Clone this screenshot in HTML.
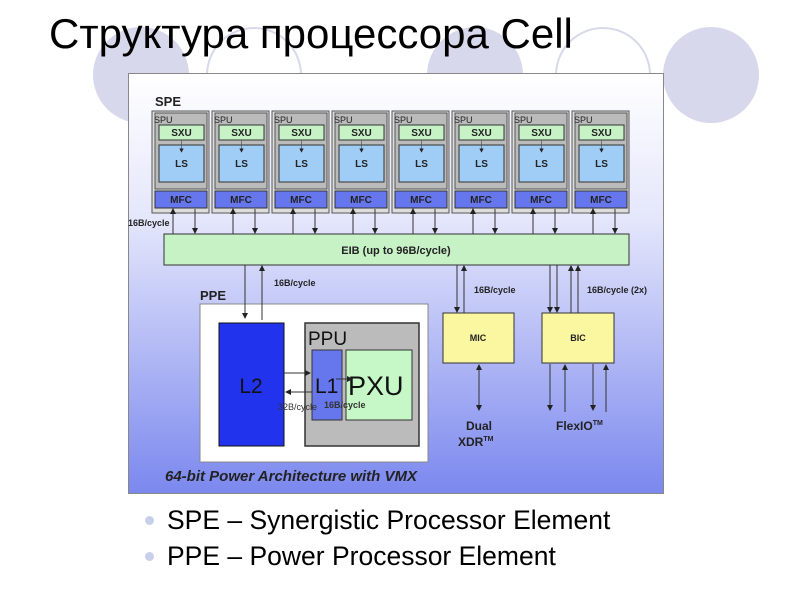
<!DOCTYPE html>
<html><head><meta charset="utf-8"><style>
body{margin:0;width:800px;height:600px;background:#fff;position:relative;overflow:hidden;font-family:"Liberation Sans",Arial,sans-serif}
.c{position:absolute;width:96px;height:96px;border-radius:50%;top:27px}
.f{background:#d8d8ec}.o{border:2px solid #d8d8ec;width:92px;height:92px}
h1{position:absolute;left:49px;top:10px;margin:0;font-weight:normal;font-size:42px;color:#000;letter-spacing:0px}
.b{position:absolute;left:146px;font-size:26.5px;color:#000}
.b:before{content:"";position:absolute;left:-1px;top:11px;width:9px;height:9px;border-radius:50%;background:#c8cfea}
.b span{margin-left:21px}
</style></head><body>
<div class="c f" style="left:93px"></div>
<div class="c o" style="left:206px"></div>
<div class="c f" style="left:427px"></div>
<div class="c o" style="left:555px"></div>
<div class="c f" style="left:663px"></div>
<h1>Структура процессора Cell</h1>
<svg style="position:absolute;left:0;top:0" width="800" height="600" font-family="Liberation Sans,Arial,sans-serif">
<defs>
<linearGradient id="g" x1="0" y1="0" x2="0" y2="1"><stop offset="0" stop-color="#ffffff"/><stop offset="0.35" stop-color="#e4e6fb"/><stop offset="1" stop-color="#7b88ee"/></linearGradient>
<marker id="a" markerWidth="6" markerHeight="6" refX="5" refY="3" orient="auto"><path d="M0,0L6,3L0,6z" fill="#222"/></marker>
</defs>
<rect x="128.5" y="73.5" width="535" height="420" fill="url(#g)" stroke="#888"/>
<text x="155" y="106" font-size="13" font-weight="bold" fill="#222">SPE</text>
<g id="spe">
<rect x="152" y="111" width="57" height="102" fill="#ddd" stroke="#555"/>
<rect x="155" y="113" width="52" height="76" fill="#bbb" stroke="#555"/>
<text x="154" y="123" font-size="9" fill="#222">SPU</text>
<rect x="159" y="125" width="45" height="15" fill="#c6f2c6" stroke="#333"/>
<text x="181.5" y="136" font-size="10" font-weight="bold" text-anchor="middle" fill="#222">SXU</text>
<rect x="159" y="145" width="45" height="37" fill="#9fcdf5" stroke="#333"/>
<text x="181.5" y="167" font-size="10" font-weight="bold" text-anchor="middle" fill="#222">LS</text>
<line x1="181.5" y1="140" x2="181.5" y2="152" stroke="#555" stroke-width="0.7" marker-end="url(#a)"/>
<rect x="155" y="191" width="52" height="17" fill="#6677ee" stroke="#333"/>
<text x="181" y="203" font-size="10" font-weight="bold" text-anchor="middle" fill="#222">MFC</text>
<line x1="173" y1="234" x2="173" y2="209" stroke="#333" marker-end="url(#a)"/>
<line x1="195" y1="209" x2="195" y2="233" stroke="#333" marker-end="url(#a)"/>
</g>
<use href="#spe" x="60"/><use href="#spe" x="120"/><use href="#spe" x="180"/><use href="#spe" x="240"/><use href="#spe" x="300"/><use href="#spe" x="360"/><use href="#spe" x="420"/>
<text x="128" y="226" font-size="9" font-weight="bold" fill="#222">16B/cycle</text>
<rect x="164" y="234" width="465" height="31" fill="#c6f2c6" stroke="#333"/>
<text x="396" y="254" font-size="11" font-weight="bold" text-anchor="middle" fill="#222">EIB (up to 96B/cycle)</text>
<text x="200" y="300" font-size="13" font-weight="bold" fill="#222">PPE</text>
<text x="274" y="286" font-size="9" font-weight="bold" fill="#222">16B/cycle</text>
<rect x="200" y="304" width="228" height="158" fill="#fff" stroke="#888"/>
<line x1="245" y1="265" x2="245" y2="318" stroke="#333" marker-end="url(#a)"/>
<line x1="262" y1="320" x2="262" y2="266" stroke="#333" marker-end="url(#a)"/>
<rect x="219" y="323" width="65" height="123" fill="#2233ee" stroke="#111"/>
<text x="251" y="393" font-size="21" text-anchor="middle" fill="#111">L2</text>
<rect x="305" y="323" width="114" height="123" fill="#bbb" stroke="#333" stroke-width="1.5"/>
<text x="308" y="345" font-size="19" fill="#111">PPU</text>
<rect x="312" y="350" width="30" height="70" fill="#6677ee" stroke="#333"/>
<rect x="346" y="350" width="66" height="70" fill="#c6f7c6" stroke="#333"/>
<text x="315" y="393" font-size="21" fill="#111">L1</text>
<text x="348" y="395" font-size="27" fill="#111">PXU</text>
<line x1="284" y1="373" x2="310" y2="373" stroke="#333" marker-end="url(#a)"/>
<line x1="312" y1="392" x2="286" y2="392" stroke="#333" marker-end="url(#a)"/>
<line x1="336" y1="379" x2="352" y2="379" stroke="#333" marker-end="url(#a)"/>
<text x="278" y="410" font-size="9" fill="#333">32B/cycle</text>
<text x="324" y="408" font-size="9" font-weight="bold" fill="#333">16B/cycle</text>
<text x="165" y="481" font-size="15" font-weight="bold" font-style="italic" fill="#222">64-bit Power Architecture with VMX</text>
<text x="474" y="293" font-size="9" font-weight="bold" fill="#222">16B/cycle</text>
<text x="587" y="293" font-size="9" font-weight="bold" fill="#222">16B/cycle (2x)</text>
<line x1="457" y1="265" x2="457" y2="312" stroke="#333" marker-end="url(#a)"/>
<line x1="464" y1="313" x2="464" y2="266" stroke="#333" marker-end="url(#a)"/>
<line x1="550" y1="265" x2="550" y2="312" stroke="#333" marker-end="url(#a)"/>
<line x1="557" y1="265" x2="557" y2="312" stroke="#333" marker-end="url(#a)"/>
<line x1="571" y1="313" x2="571" y2="266" stroke="#333" marker-end="url(#a)"/>
<line x1="578" y1="313" x2="578" y2="266" stroke="#333" marker-end="url(#a)"/>
<rect x="443" y="313" width="71" height="50" fill="#fbf6a0" stroke="#333"/>
<text x="478" y="341" font-size="9" font-weight="bold" text-anchor="middle" fill="#222">MIC</text>
<rect x="542" y="313" width="72" height="50" fill="#fbf6a0" stroke="#333"/>
<text x="578" y="341" font-size="9" font-weight="bold" text-anchor="middle" fill="#222">BIC</text>
<line x1="479" y1="380" x2="479" y2="410" stroke="#333" marker-end="url(#a)"/>
<line x1="479" y1="395" x2="479" y2="365" stroke="#333" marker-end="url(#a)"/>
<line x1="550" y1="364" x2="550" y2="410" stroke="#333" marker-end="url(#a)"/>
<line x1="565" y1="412" x2="565" y2="365" stroke="#333" marker-end="url(#a)"/>
<line x1="593" y1="364" x2="593" y2="410" stroke="#333" marker-end="url(#a)"/>
<line x1="606" y1="412" x2="606" y2="365" stroke="#333" marker-end="url(#a)"/>
<text x="479" y="430" font-size="12" font-weight="bold" text-anchor="middle" fill="#222">Dual</text>
<text x="458" y="446" font-size="12" font-weight="bold" fill="#222">XDR<tspan font-size="7" dy="-5">TM</tspan></text>
<text x="556" y="430" font-size="12" font-weight="bold" fill="#222">FlexIO<tspan font-size="7" dy="-5">TM</tspan></text>
</svg>
<div class="b" style="top:505px"><span>SPE – Synergistic Processor Element</span></div>
<div class="b" style="top:541px"><span>PPE – Power Processor Element</span></div>
</body></html>
